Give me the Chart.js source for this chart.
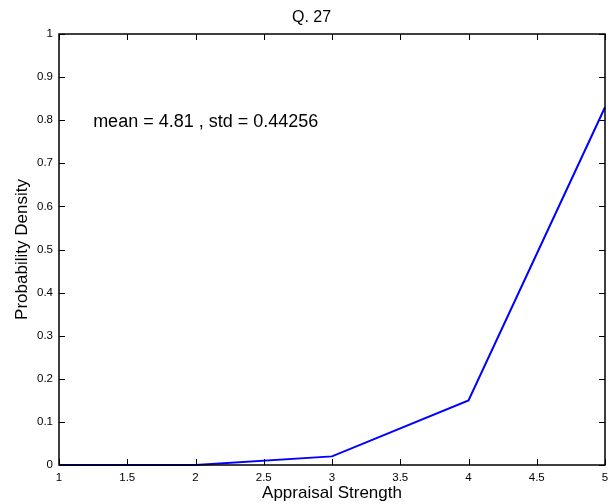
<!DOCTYPE html>
<html>
<head>
<meta charset="utf-8">
<script src="https://cdn.jsdelivr.net/npm/chart.js@4"></script>
<style>
html,body{margin:0;padding:0;background:#fff;}
#wrap{width:611px;height:504px;}
</style>
</head>
<body>
<div id="wrap"><canvas id="c" width="611" height="504"></canvas></div>
<script>
const titleText = "Q. 27";
const xLabel = "Appraisal Strength";
const yLabel = "Probability Density";
const annotationText = "mean = 4.81 , std = 0.44256";
const xValues = [1, 2, 3, 4, 5];
const density = [0, 0, 0.02, 0.15, 0.83];
const xTicks = [1, 1.5, 2, 2.5, 3, 3.5, 4, 4.5, 5];
const yTicks = [0, 0.1, 0.2, 0.3, 0.4, 0.5, 0.6, 0.7, 0.8, 0.9, 1];

const FONT = "'Liberation Sans', Arial, Helvetica, sans-serif";

const boxPlugin = {
  id: 'boxPlugin',
  afterDraw(chart) {
    const ctx = chart.ctx;
    const a = chart.chartArea;
    const xs = chart.scales.x, ys = chart.scales.y;
    ctx.save();
    ctx.strokeStyle = '#000';
    ctx.lineWidth = 1;
    const L = 6;
    ctx.beginPath();
    xTicks.forEach(v => {
      const px = Math.round(xs.getPixelForValue(v)) + 0.5;
      ctx.moveTo(px, a.bottom); ctx.lineTo(px, a.bottom - L);
      ctx.moveTo(px, a.top); ctx.lineTo(px, a.top + L);
    });
    yTicks.forEach(v => {
      const py = Math.round(ys.getPixelForValue(v)) + 0.5;
      ctx.moveTo(a.left, py); ctx.lineTo(a.left + L, py);
      ctx.moveTo(a.right, py); ctx.lineTo(a.right - L, py);
    });
    ctx.stroke();
    ctx.lineWidth = 1.5;
    ctx.strokeRect(a.left, a.top, a.right - a.left, a.bottom - a.top);
    ctx.fillStyle = '#000';
    ctx.font = '18px ' + FONT;
    ctx.textBaseline = 'middle';
    ctx.textAlign = 'left';
    ctx.fillText(annotationText, xs.getPixelForValue(1.25), ys.getPixelForValue(0.795));
    ctx.restore();
  }
};

new Chart(document.getElementById('c'), {
  type: 'line',
  data: {
    datasets: [{
      data: xValues.map((x, i) => ({x: x, y: density[i]})),
      borderColor: '#0000ff',
      borderWidth: 2,
      pointRadius: 0,
      fill: false,
      tension: 0,
      clip: false
    }]
  },
  options: {
    responsive: false,
    animation: false,
    devicePixelRatio: 1,
    layout: {padding: {left: 12, right: 0, top: 0, bottom: 0}},
    plugins: {
      legend: {display: false},
      tooltip: {enabled: false},
      title: {
        display: true,
        text: titleText,
        color: '#000',
        font: {family: FONT, size: 16, weight: 'normal', lineHeight: 1.2},
        padding: {top: 8, bottom: 6.8}
      }
    },
    scales: {
      x: {
        type: 'linear',
        min: 1, max: 5,
        afterBuildTicks: s => { s.ticks = xTicks.map(v => ({value: v})); },
        grid: {display: false, drawTicks: false, tickLength: 0},
        border: {display: false},
        ticks: {
          color: '#000',
          font: {family: FONT, size: 11.5},
          padding: 6,
          maxRotation: 0,
          autoSkip: false,
          callback: v => String(v)
        },
        title: {
          display: true,
          text: xLabel,
          color: '#000',
          font: {family: FONT, size: 17},
          padding: {top: 0, bottom: 0}
        },
        afterFit: s => { s.height = 39; s.paddingRight = 6; s.paddingLeft = 0; }
      },
      y: {
        type: 'linear',
        min: 0, max: 1,
        afterBuildTicks: s => { s.ticks = yTicks.map(v => ({value: v})); },
        grid: {display: false, drawTicks: false, tickLength: 0},
        border: {display: false},
        ticks: {
          color: '#000',
          font: {family: FONT, size: 11.5},
          padding: 6,
          autoSkip: false,
          callback: v => String(Math.round(v * 10) / 10)
        },
        title: {
          display: true,
          text: yLabel,
          color: '#000',
          font: {family: FONT, size: 17},
          padding: {top: 0, bottom: 0}
        },
        afterFit: s => { s.width = 47; }
      }
    }
  },
  plugins: [boxPlugin]
});
</script>
</body>
</html>
